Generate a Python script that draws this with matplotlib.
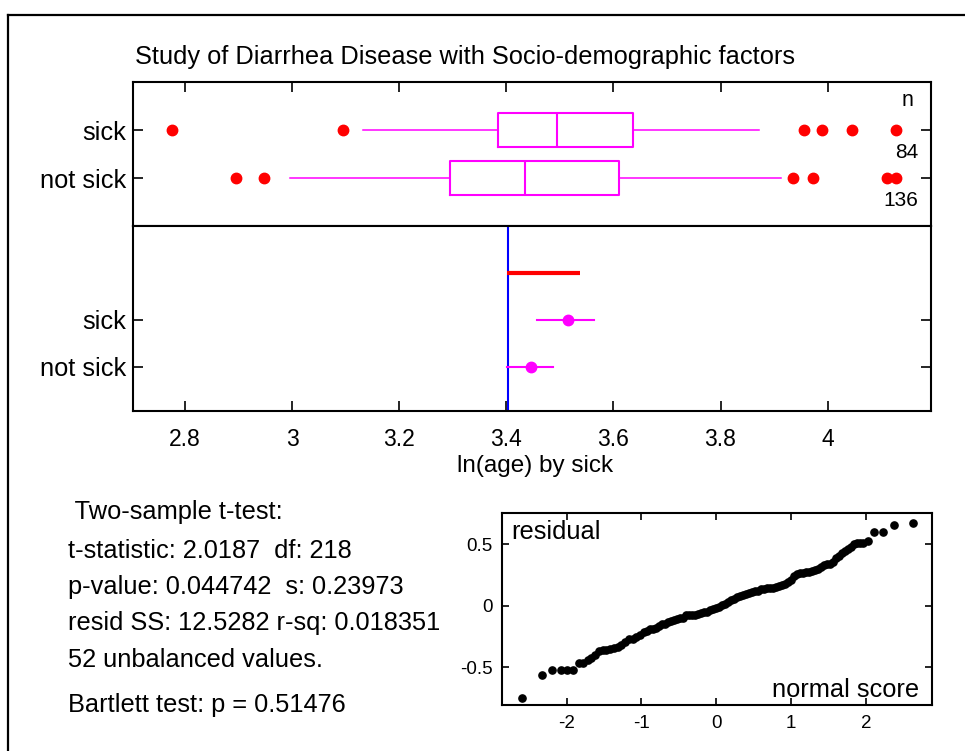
import matplotlib
matplotlib.use('Agg')
import matplotlib.pyplot as plt
from matplotlib.lines import Line2D

plt.rcParams['font.family'] = ['Liberation Sans', 'DejaVu Sans']

W, H = 965, 751

title = 'Study of Diarrhea Disease with Socio-demographic factors'
groups = ['not sick', 'sick']
group_n = [136, 84]

# box plot of ln(age)
box_whislo = [2.996, 3.133]
box_q1 = [3.295, 3.384]
box_med = [3.434, 3.495]
box_q3 = [3.610, 3.637]
box_whishi = [3.912, 3.871]
fliers_not_sick = [2.895, 2.948, 3.935, 3.973, 4.110, 4.128]
fliers_sick = [2.776, 3.096, 3.955, 3.990, 4.045, 4.128]

# means with intervals
mean_vals = [3.446, 3.515]
mean_lo = [3.402, 3.458]
mean_hi = [3.487, 3.564]
ref_value = 3.403
diff_bar = [3.401, 3.538]

x_ticks = [2.8, 3.0, 3.2, 3.4, 3.6, 3.8, 4.0]
x_tick_labels = ['2.8', '3', '3.2', '3.4', '3.6', '3.8', '4']

stats_lines = [' Two-sample t-test:',
               't-statistic: 2.0187  df: 218',
               'p-value: 0.044742  s: 0.23973',
               'resid SS: 12.5282 r-sq: 0.018351',
               '52 unbalanced values.',
               'Bartlett test: p = 0.51476']

# normal probability plot of residuals (normal score, residual)
qq_score = [-2.59, -2.33, -2.20, -2.08, -1.99, -1.92, -1.84, -1.78, -1.72, -1.67,
            -1.62, -1.57, -1.52, -1.47, -1.42, -1.37, -1.32, -1.27, -1.22, -1.17,
            -1.12, -1.07, -1.02, -0.97, -0.93, -0.88, -0.84, -0.80, -0.76, -0.72,
            -0.68, -0.64, -0.60, -0.56, -0.52, -0.48, -0.44, -0.40, -0.36, -0.32,
            -0.28, -0.24, -0.20, -0.16, -0.12, -0.08, -0.04, 0.00, 0.04, 0.08,
            0.12, 0.16, 0.20, 0.24, 0.28, 0.32, 0.36, 0.40, 0.44, 0.48,
            0.52, 0.56, 0.60, 0.64, 0.68, 0.72, 0.76, 0.80, 0.84, 0.88,
            0.92, 0.96, 1.00, 1.04, 1.08, 1.12, 1.16, 1.20, 1.24, 1.28,
            1.32, 1.36, 1.40, 1.44, 1.48, 1.52, 1.56, 1.60, 1.64, 1.68,
            1.72, 1.76, 1.80, 1.84, 1.88, 1.92, 1.96, 2.03, 2.11, 2.23,
            2.37, 2.63]
qq_resid = [-0.75, -0.565, -0.52, -0.52, -0.52, -0.52, -0.465, -0.465, -0.44, -0.42,
            -0.395, -0.37, -0.36, -0.355, -0.35, -0.345, -0.335, -0.32, -0.29, -0.27,
            -0.265, -0.25, -0.235, -0.215, -0.205, -0.19, -0.185, -0.175, -0.16, -0.15,
            -0.145, -0.13, -0.12, -0.11, -0.105, -0.10, -0.095, -0.075, -0.07, -0.07,
            -0.07, -0.065, -0.055, -0.05, -0.045, -0.035, -0.025, -0.015, -0.005, 0.005,
            0.015, 0.03, 0.045, 0.06, 0.075, 0.085, 0.09, 0.10, 0.105, 0.115,
            0.12, 0.125, 0.135, 0.14, 0.145, 0.15, 0.15, 0.155, 0.16, 0.17,
            0.18, 0.195, 0.215, 0.24, 0.26, 0.27, 0.27, 0.275, 0.28, 0.285,
            0.29, 0.30, 0.315, 0.33, 0.34, 0.345, 0.36, 0.39, 0.41, 0.43,
            0.445, 0.46, 0.48, 0.50, 0.515, 0.515, 0.515, 0.525, 0.60, 0.60,
            0.655, 0.675]


def fx(px):
    return px / W


def fy(py):
    return 1 - py / H


def box(px0, py0, px1, py1):
    return [fx(px0), fy(py1), (px1 - px0) / W, (py1 - py0) / H]


FS = 18.3
MAG = '#ff00ff'

fig = plt.figure(figsize=(W / 100, H / 100), dpi=100)

# outer frame
fig.add_artist(Line2D([fx(8), fx(8)], [fy(15), 0], color='black', lw=1.6))
fig.add_artist(Line2D([fx(8), 1], [fy(15), fy(15)], color='black', lw=1.6))

fig.text(fx(135), fy(57), title, ha='left', va='center', fontsize=FS)

# top panel: box plots
ax1 = fig.add_axes(box(133, 82, 931, 226))
stats = []
for i in range(2):
    stats.append({'whislo': box_whislo[i], 'q1': box_q1[i], 'med': box_med[i],
                  'q3': box_q3[i], 'whishi': box_whishi[i],
                  'fliers': [fliers_not_sick, fliers_sick][i]})
line_kw = {'color': MAG, 'linewidth': 1.5}
ax1.bxp(stats, positions=[1, 2], widths=0.7, orientation='horizontal',
        showcaps=False, boxprops=line_kw, whiskerprops={'color': MAG, 'linewidth': 1.1},
        medianprops=line_kw,
        flierprops={'marker': 'o', 'markerfacecolor': 'red', 'markeredgecolor': 'red',
                    'markersize': 7.5, 'linestyle': 'none'})
ax1.set_ylim(0, 3)
ax1.set_yticks([1, 2])
ax1.set_yticklabels(groups)

# n labels
fig.text(fx(913), fy(100), 'n', ha='right', va='center', fontsize=15.5)
fig.text(fx(918), fy(152), str(group_n[1]), ha='right', va='center', fontsize=15)
fig.text(fx(918), fy(200), str(group_n[0]), ha='right', va='center', fontsize=15)

# lower panel: means
ax2 = fig.add_axes(box(133, 226, 931, 411))
ax2.axvline(ref_value, color='blue', lw=1.5, zorder=1)
ax2.plot(diff_bar, [3, 3], color='red', lw=3, solid_capstyle='butt', zorder=2)
for i, pos in enumerate([1, 2]):
    ax2.plot([mean_lo[i], mean_hi[i]], [pos, pos], color=MAG, lw=1.5, zorder=3)
    ax2.plot([mean_vals[i]], [pos], 'o', color=MAG, markersize=7.5, zorder=4)
ax2.set_ylim(0.06, 4.0)
ax2.set_yticks([1, 2])
ax2.set_yticklabels(groups)

for ax in (ax1, ax2):
    ax.set_xlim(2.703, 4.193)
    ax.set_xticks(x_ticks)
    for s in ax.spines.values():
        s.set_linewidth(1.5)
    ax.tick_params(axis='y', direction='in', left=True, right=True, length=7,
                   width=1.2, labelsize=FS, pad=5)
ax1.tick_params(axis='x', direction='in', top=True, bottom=False, labelbottom=False,
                length=7, width=1.2)
ax2.tick_params(axis='x', direction='in', top=False, bottom=True, length=7, width=1.2,
                labelsize=16.5, pad=12)
ax2.set_xticklabels(x_tick_labels)

fig.text(fx(535), fy(466), 'ln(age) by sick', ha='center', va='center', fontsize=17.5)

# stats text
stats_y = [512, 551, 587, 623, 660, 705]
for txt, py in zip(stats_lines, stats_y):
    fig.text(fx(68), fy(py), txt, ha='left', va='center', fontsize=FS)

# normal probability plot
ax3 = fig.add_axes(box(502, 513, 932, 705))
ax3.plot(qq_score, qq_resid, 'o', color='black', markersize=5.2)
ax3.set_xlim(-2.863, 2.88)
ax3.set_ylim(-0.805, 0.756)
ax3.set_xticks([-2, -1, 0, 1, 2])
ax3.set_yticks([-0.5, 0, 0.5])
ax3.set_xticklabels(['-2', '-1', '0', '1', '2'])
ax3.set_yticklabels(['-0.5', '0', '0.5'])
for s in ax3.spines.values():
    s.set_linewidth(1.5)
ax3.tick_params(direction='in', top=True, right=True, length=5, width=1.2,
                labelsize=13.5, pad=7)
ax3.text(0.022, 0.9, 'residual', transform=ax3.transAxes, ha='left', va='center',
         fontsize=FS)
ax3.text(0.97, 0.08, 'normal score', transform=ax3.transAxes, ha='right', va='center',
         fontsize=FS)

fig.savefig('out.png', dpi=100)
